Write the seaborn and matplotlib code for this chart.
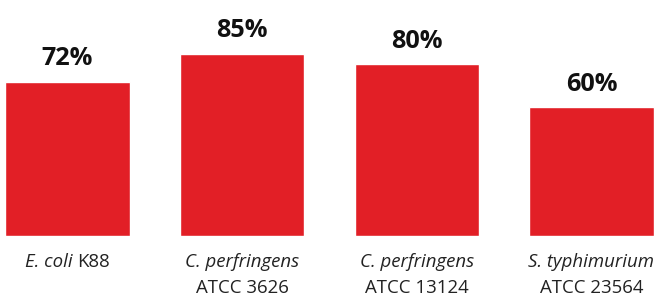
import matplotlib
matplotlib.use("Agg")
import matplotlib.pyplot as plt
import seaborn as sns
import pandas as pd
from matplotlib.offsetbox import TextArea, HPacker, VPacker, AnnotationBbox

species = ["E. coli", "C. perfringens", "C. perfringens", "S. typhimurium"]
strains = ["K88", "ATCC 3626", "ATCC 13124", "ATCC 23564"]
inline = [True, False, False, False]
values = [72, 85, 80, 60]
value_labels = ["72%", "85%", "80%", "60%"]

sns.set_theme(style="white")
plt.rcParams['font.family'] = ['Open Sans', 'DejaVu Sans']

categories = [f"{s} {t}" for s, t in zip(species, strains)]
df = pd.DataFrame({"cat": categories, "val": values})

fig = plt.figure(figsize=(6.61, 2.98), dpi=100)
ax = fig.add_axes([0.0, 62/298, 1.0, 236/298])
sns.barplot(data=df, x="cat", y="val", color="#E21F26", saturation=1,
            width=0.71, ax=ax)

scale = (591.5 - 67.5) / 3.0
left = -67.5 / scale
right = left + 661 / scale
ax.set_xlim(left, right)
ax.set_ylim(0, 236 / 2.145)

for i, (v, lab) in enumerate(zip(values, value_labels)):
    ax.annotate(lab, (i, v), xytext=(0, 7.5), textcoords="offset points",
                ha="center", va="bottom", fontsize=18.2, fontweight="bold",
                color="#111111")

fs = 13.4
tcol = "#222222"
for i, (sp, st, inl) in enumerate(zip(species, strains, inline)):
    it = TextArea(sp, textprops=dict(fontsize=fs, style="italic", color=tcol))
    rg = TextArea(st, textprops=dict(fontsize=fs, color=tcol))
    if inl:
        box = HPacker(children=[it, rg], sep=3.5, pad=0, align="baseline")
    else:
        box = VPacker(children=[it, rg], sep=5.8, pad=0, align="center")
    ab = AnnotationBbox(box, (i, 0), xybox=(0, -12), xycoords="data",
                        boxcoords="offset points", box_alignment=(0.5, 1),
                        frameon=False, pad=0, annotation_clip=False)
    ax.add_artist(ab)

ax.set_xlabel("")
ax.set_ylabel("")
ax.set_yticks([])
ax.set_xticks(range(len(values)))
ax.set_xticklabels([""] * len(values))
ax.tick_params(axis="x", length=0)
for s in ax.spines.values():
    s.set_visible(False)

fig.savefig("out.png", dpi=100)
